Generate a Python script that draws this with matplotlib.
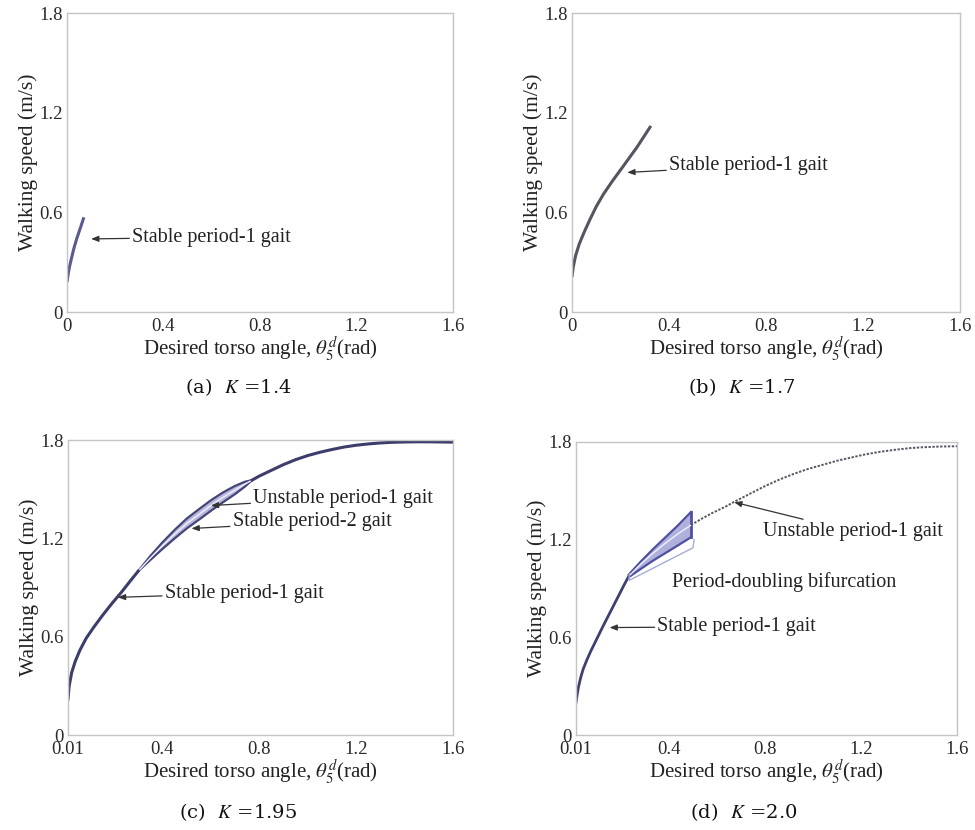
import matplotlib
matplotlib.use("Agg")
import matplotlib.pyplot as plt

# Стиль: шрифт з засічками як у статті
plt.rcParams['font.family'] = ['Liberation Serif', 'DejaVu Serif']
plt.rcParams['mathtext.fontset'] = 'stix'

# (a) K = 1.4
a_x = [0.0, 0.004, 0.01, 0.018, 0.028, 0.04, 0.054, 0.07]
a_y = [0.18, 0.22, 0.27, 0.32, 0.38, 0.44, 0.50, 0.57]

# (b) K = 1.7
b_x = [0.0, 0.005, 0.015, 0.03, 0.05, 0.075, 0.10, 0.13, 0.165, 0.21, 0.267, 0.325]
b_y = [0.21, 0.27, 0.34, 0.41, 0.48, 0.56, 0.635, 0.71, 0.785, 0.875, 0.99, 1.12]

# (c) K = 1.95: стійкий період-1 до і після області період-2
c_x1 = [0.01, 0.015, 0.025, 0.04, 0.06, 0.085, 0.115, 0.15, 0.19, 0.23, 0.27, 0.30]
c_y1 = [0.22, 0.30, 0.38, 0.45, 0.52, 0.59, 0.655, 0.725, 0.80, 0.87, 0.945, 1.00]
c_x2 = [0.77, 0.80, 0.85, 0.90, 0.95, 1.00, 1.05, 1.10, 1.15, 1.20, 1.25, 1.30,
        1.35, 1.40, 1.45, 1.50, 1.55, 1.60]
c_y2 = [1.555, 1.58, 1.615, 1.65, 1.68, 1.705, 1.725, 1.742, 1.757, 1.768, 1.776, 1.782,
        1.786, 1.788, 1.789, 1.789, 1.788, 1.787]
c_xp = [0.30, 0.35, 0.40, 0.45, 0.50, 0.55, 0.60, 0.65, 0.70, 0.74, 0.77]
c_up = [1.00, 1.092, 1.175, 1.251, 1.32, 1.377, 1.432, 1.48, 1.52, 1.545, 1.555]
c_lo = [1.00, 1.068, 1.135, 1.199, 1.26, 1.313, 1.368, 1.42, 1.47, 1.515, 1.555]
c_mid = [1.00, 1.08, 1.155, 1.225, 1.29, 1.345, 1.40, 1.45, 1.495, 1.53, 1.555]

# (d) K = 2.0
d_x1 = [0.01, 0.015, 0.021, 0.03, 0.04, 0.055, 0.07, 0.085, 0.10, 0.12, 0.14, 0.165,
        0.19, 0.21, 0.23]
d_y1 = [0.20, 0.25, 0.30, 0.355, 0.405, 0.46, 0.51, 0.555, 0.60, 0.66, 0.718, 0.79,
        0.862, 0.92, 0.975]
d_xp = [0.23, 0.28, 0.33, 0.38, 0.43, 0.49]
d_up = [0.985, 1.065, 1.14, 1.21, 1.28, 1.37]
d_lo = [0.97, 1.02, 1.07, 1.115, 1.16, 1.215]
d_mid = [0.975, 1.05, 1.115, 1.175, 1.23, 1.29]
d_xu = [0.49, 0.53, 0.58, 0.63, 0.68, 0.74, 0.80, 0.86, 0.92, 0.98, 1.04, 1.10,
        1.16, 1.22, 1.28, 1.34, 1.40, 1.46, 1.53, 1.60]
d_yu = [1.29, 1.325, 1.365, 1.40, 1.44, 1.485, 1.53, 1.57, 1.605, 1.635, 1.66, 1.685,
        1.705, 1.725, 1.74, 1.752, 1.762, 1.768, 1.772, 1.774]
d_brace_x = [0.232, 0.232, 0.498, 0.503]
d_brace_y = [0.99, 0.95, 1.15, 1.20]

y_ticks = [0, 0.6, 1.2, 1.8]
y_labels = ['0', '0.6', '1.2', '1.8']
captions = ['(a)  $K$ =1.4', '(b)  $K$ =1.7', '(c)  $K$ =1.95', '(d)  $K$ =2.0']

W, H = 975, 830
fig = plt.figure(figsize=(9.75, 8.3), dpi=100)

# позиції осей у пікселях (ліво, верх, право, низ)
boxes = [(67, 13, 453, 312), (572, 13, 960, 312),
         (68, 440, 453, 735), (576, 442, 957, 735)]
axes = []
for (l, t, r, b) in boxes:
    ax = fig.add_axes([l / W, 1 - b / H, (r - l) / W, (b - t) / H])
    axes.append(ax)

for i, ax in enumerate(axes):
    if i < 2:
        ax.set_xlim(0, 1.6)
        ax.set_xticks([0, 0.4, 0.8, 1.2, 1.6])
        ax.set_xticklabels(['0', '0.4', '0.8', '1.2', '1.6'])
    else:
        ax.set_xlim(0.01, 1.6)
        ax.set_xticks([0.01, 0.4, 0.8, 1.2, 1.6])
        ax.set_xticklabels(['0.01', '0.4', '0.8', '1.2', '1.6'])
    ax.set_ylim(0, 1.8)
    ax.set_yticks(y_ticks)
    ax.set_yticklabels(y_labels)
    ax.tick_params(length=0, labelsize=13.5, colors='#2a2a2a')
    ax.tick_params(axis='x', pad=4)
    ax.tick_params(axis='y', pad=3)
    for s in ax.spines.values():
        s.set_color('#c4c4c4')
        s.set_linewidth(1.0)
    ax.set_xlabel(r'Desired torso angle, $\theta_5^d$(rad)', fontsize=15, color='#222222', labelpad=0)
    ax.set_ylabel('Walking speed (m/s)', fontsize=15.5, color='#222222', labelpad=1)

cap_pos = [(238, 387), (742, 387), (238, 812), (744, 812)]
for (cx, cy), txt in zip(cap_pos, captions):
    fig.text(cx / W, 1 - cy / H, txt, ha='center', va='center', fontsize=14,
             family=['DejaVu Serif'], color='#111111')

arrow = dict(arrowstyle='-|>,head_length=0.3,head_width=0.12', color='#333333', lw=0.9,
             shrinkA=0, shrinkB=0)
txt_kw = dict(fontsize=14.5, color='#222222', va='center', ha='left')

# (a)
ax = axes[0]
ax.plot(a_x, a_y, color='#5a5a90', lw=2.2, solid_capstyle='butt')
ax.annotate('Stable period-1 gait', xy=(0.10, 0.44), xytext=(0.27, 0.45), arrowprops=arrow, **txt_kw)

# (b)
ax = axes[1]
ax.plot(b_x, b_y, color='#555560', lw=2.2, solid_capstyle='butt')
ax.annotate('Stable period-1 gait', xy=(0.228, 0.84), xytext=(0.40, 0.88), arrowprops=arrow, **txt_kw)

# (c)
ax = axes[2]
ax.fill_between(c_xp, c_lo, c_up, color='#b8b8dc', lw=0)
ax.plot(c_xp, c_up, color='#45457a', lw=1.6)
ax.plot(c_xp, c_lo, color='#45457a', lw=1.6)
ax.plot(c_xp, c_mid, color='#f0f0ff', lw=1.0)
ax.plot(c_x1, c_y1, color='#3d3d6b', lw=2.2)
ax.plot(c_x2, c_y2, color='#3d3d6b', lw=2.2)
ax.annotate('Unstable period-1 gait', xy=(0.60, 1.40), xytext=(0.775, 1.445), arrowprops=arrow, **txt_kw)
ax.annotate('Stable period-2 gait', xy=(0.52, 1.26), xytext=(0.69, 1.30), arrowprops=arrow, **txt_kw)
ax.annotate('Stable period-1 gait', xy=(0.216, 0.84), xytext=(0.41, 0.865), arrowprops=arrow, **txt_kw)

# (d)
ax = axes[3]
ax.fill_between(d_xp, d_lo, d_up, color='#b0b0dc', lw=0)
ax.plot(d_xp, d_up, color='#5050a0', lw=1.6)
ax.plot(d_xp, d_lo, color='#5050a0', lw=1.6)
ax.plot([d_xp[-1], d_xp[-1]], [d_lo[-1], d_up[-1]], color='#5050a0', lw=2.0)
ax.plot(d_xp, d_mid, color='#f0f0ff', lw=1.0)
ax.plot(d_x1, d_y1, color='#404070', lw=2.0)
ax.plot(d_xu, d_yu, color='#555566', lw=1.4, ls=(0, (1.2, 0.8)))
ax.plot(d_brace_x, d_brace_y, color='#a4acd4', lw=1.0)
ax.annotate('Unstable period-1 gait', xy=(0.67, 1.43), xytext=(0.79, 1.25), arrowprops=arrow, **txt_kw)
ax.text(0.41, 0.94, 'Period-doubling bifurcation', **txt_kw)
ax.annotate('Stable period-1 gait', xy=(0.15, 0.66), xytext=(0.35, 0.665), arrowprops=arrow, **txt_kw)

fig.savefig('out.png', dpi=100, facecolor='white')
